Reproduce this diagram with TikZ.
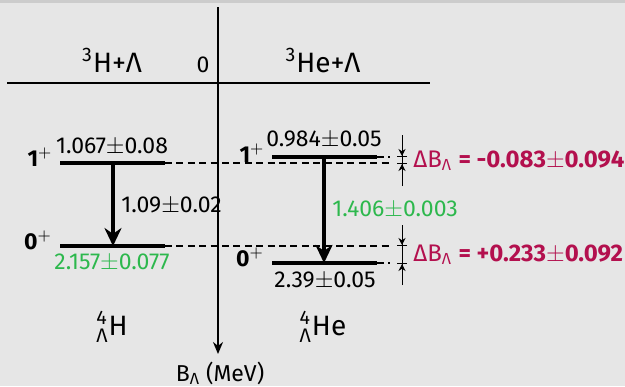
\documentclass[tikz,border=0pt]{standalone}
\usepackage{amsmath}
\usepackage{fontspec}
\setmainfont{Fira Sans}
\usepackage{xcolor}
\usetikzlibrary{arrows.meta,positioning}

\definecolor{bggray}{HTML}{E6E6E6}
\definecolor{stripgray}{HTML}{CCCCCC}
\definecolor{valgreen}{HTML}{2DB84D}
\definecolor{dbred}{HTML}{B3104E}

\begin{document}
\begin{tikzpicture}[
			x=0.5pt, y=-0.5pt,
			font=\fontsize{11.5}{13}\selectfont,
			>=Stealth,
			big/.style={font=\fontsize{14}{16}\selectfont},
			lbl/.style={inner sep=0pt, anchor=base},
			dbl/.style={inner sep=0pt, anchor=base west, text=dbred, font=\fontsize{12}{14}\selectfont},
			lvl/.style={line width=2pt},
			link/.style={line width=0.8pt, dash pattern=on 3.5pt off 2.2pt},
			trans/.style={-{Stealth[length=9pt,width=8.5pt]}, line width=2pt},
			dimarr/.style={-{Stealth[length=3.5pt,width=3.5pt]Bar[width=5pt]}, line width=0.5pt},
			axis/.style={-{Stealth[length=6pt,width=5pt]}, line width=1pt}
			]
			% background
			\fill[bggray] (0,0) rectangle (625,386);
			\fill[stripgray] (0,0) rectangle (625,3);
			\useasboundingbox (0,0) rectangle (625,386);
			
			% axis and threshold
			\coordinate (atop) at (218,7);
			\coordinate (abot) at (218,354);
			\coordinate (thl) at (7,83);
			\coordinate (thr) at (430,83);
			\draw[line width=1pt] (thl) -- (thr);
			\draw[axis] (atop) -- (abot);
			\node[lbl] (zero) at (203,72) {0};
			\node[lbl, big] (thH) at (112,72) {\textsuperscript{3}H+Λ};
			\node[lbl, big] (thHe) at (323,72) {\textsuperscript{3}He+Λ};
			\node[lbl] (ba) at (220,381) {B\textsubscript{Λ} (MeV)};
			
			% levels
			\coordinate (hA) at (60,163);  \coordinate (hB) at (165,163);
			\coordinate (hC) at (60,246);  \coordinate (hD) at (165,246);
			\coordinate (eA) at (272,157); \coordinate (eB) at (377,157);
			\coordinate (eC) at (272,263); \coordinate (eD) at (377,263);
			\coordinate (dA) at (390,163); \coordinate (dB) at (390,157);
			\coordinate (dC) at (390,246); \coordinate (dD) at (390,263);
			\draw[link] (hB) -- (dA);
			\draw[link] (eB) -- (dB);
			\draw[link] (hD) -- (dC);
			\draw[link] (eD) -- (dD);
			\draw[lvl] (hA) -- (hB);
			\draw[lvl] (hC) -- (hD);
			\draw[lvl] (eA) -- (eB);
			\draw[lvl] (eC) -- (eD);
			
			% transitions
			\coordinate (tH1) at (113,163); \coordinate (tH0) at (113,246);
			\coordinate (tE1) at (324,157); \coordinate (tE0) at (324,263);
			\draw[trans] (tH1) -- (tH0);
			\draw[trans] (tE1) -- (tE0);
			
			% differences
			\coordinate (m1t) at (402,135); \coordinate (m1a) at (402,157);
			\coordinate (m1b) at (402,163); \coordinate (m1d) at (402,186);
			\coordinate (m0t) at (402,225); \coordinate (m0a) at (402,246);
			\coordinate (m0b) at (402,263); \coordinate (m0d) at (402,285);
			\draw[line width=0.5pt] (m1a) -- (m1b);
			\draw[dimarr] (m1t) -- (m1a);
			\draw[dimarr] (m1d) -- (m1b);
			\draw[line width=0.5pt] (m0a) -- (m0b);
			\draw[dimarr] (m0t) -- (m0a);
			\draw[dimarr] (m0d) -- (m0b);
			\node[dbl] (db1) at (413,167) {ΔB\textsubscript{Λ} \textbf{= -0.083}$\pm$\textbf{0.094}};
			\node[dbl] (db0) at (413,261) {ΔB\textsubscript{Λ} \textbf{= +0.233}$\pm$\textbf{0.092}};
			
			% labels
			\node[lbl] (vH1) at (112,153) {1.067$\pm$0.08};
			\node[lbl] (jH1) at (40,166) {\textbf{1}$^+$};
			\node[lbl] (vE1) at (324,146) {0.984$\pm$0.05};
			\node[lbl] (jE1) at (252,162) {\textbf{1}$^+$};
			\node[lbl] (jH0) at (38,249) {\textbf{0}$^+$};
			\node[lbl, text=valgreen] (vH0) at (112,269) {2.157$\pm$0.077};
			\node[lbl] (jE0) at (250,266) {\textbf{0}$^+$};
			\node[lbl] (vE0) at (325,287) {2.39$\pm$0.05};
			\node[lbl, anchor=base west] (gH) at (121,212) {1.09$\pm$0.02};
			\node[lbl, anchor=base west, text=valgreen] (gE) at (332,216) {1.406$\pm$0.003};
			\node[lbl, big] (nH) at (112,335) {$^{\text{4}}_{\text{Λ}}$H};
			\node[lbl, big] (nHe) at (323,335) {$^{\text{4}}_{\text{Λ}}$He};
		\end{tikzpicture}
\end{document}
